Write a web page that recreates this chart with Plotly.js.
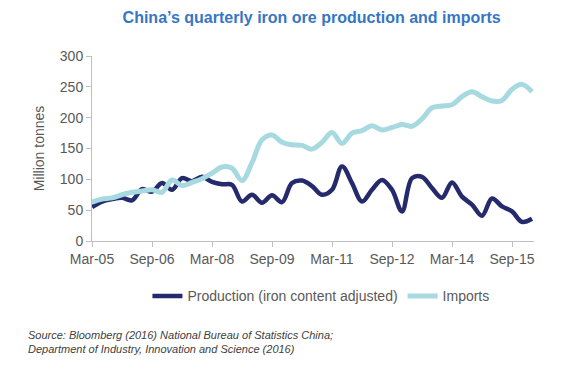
<!DOCTYPE html>
<html>
<head>
<meta charset="utf-8">
<script src="https://cdn.plot.ly/plotly-3.0.1.min.js"></script>
<style>html,body{margin:0;padding:0;background:#fff;}#chart{width:575px;height:370px;}</style>
</head>
<body>
<div id="chart"></div>
<script>
const quarters = ["Mar-05","Jun-05","Sep-05","Dec-05","Mar-06","Jun-06","Sep-06","Dec-06","Mar-07","Jun-07","Sep-07","Dec-07","Mar-08","Jun-08","Sep-08","Dec-08","Mar-09","Jun-09","Sep-09","Dec-09","Mar-10","Jun-10","Sep-10","Dec-10","Mar-11","Jun-11","Sep-11","Dec-11","Mar-12","Jun-12","Sep-12","Dec-12","Mar-13","Jun-13","Sep-13","Dec-13","Mar-14","Jun-14","Sep-14","Dec-14","Mar-15","Jun-15","Sep-15","Dec-15","Mar-16"];
const production = [55,64,68,70,66,84,80,94,83,102,97,104,96,92,91,64,75,62,74,63,94,98,89,75,83,121,94,64,83,99,83,48,102,104,86,70,95,72,59,41,69,56,48,31,36];
const imports = [63,68,70,75,79,81,83,79,99,90,95,101,110,120,118,98,127,164,172,160,156,155,149,160,176,158,175,179,187,180,184,189,186,198,216,219,221,234,242,234,227,228,246,254,242];
const tickLabels = ["Mar-05","Sep-06","Mar-08","Sep-09","Mar-11","Sep-12","Mar-14","Sep-15"];
const yTicks = [0,50,100,150,200,250,300];

const font = "Liberation Sans, Arial, sans-serif";
const traces = [
  {x: quarters, y: production, type: "scatter", mode: "lines", name: "Production (iron content adjusted)",
   line: {color: "#252a6c", width: 4.5, shape: "spline", smoothing: 1}},
  {x: quarters, y: imports, type: "scatter", mode: "lines", name: "Imports",
   line: {color: "#a6d9e0", width: 5, shape: "spline", smoothing: 1}}
];
const layout = {
  width: 575, height: 370,
  margin: {l: 92, r: 41, t: 56, b: 128.5},
  paper_bgcolor: "#fff", plot_bgcolor: "#fff",
  font: {family: font, size: 14, color: "#595959"},
  title: {text: "China\u2019s quarterly iron ore production and imports", font: {family: font, size: 16, color: "#3676c4", weight: "bold"}, x: 0.542, xanchor: "center", y: 0.954, yanchor: "middle"},
  showlegend: true,
  legend: {orientation: "h", x: 0.518, xanchor: "center", y: -0.299, yanchor: "middle", font: {family: font, size: 14, color: "#595959"}, itemwidth: 30, traceorder: "normal"},
  xaxis: {type: "category", range: [0, 44.2], tickvals: tickLabels, ticktext: tickLabels,
    showline: true, linecolor: "#bfbfbf", linewidth: 1, ticks: "outside", ticklen: 5, tickcolor: "#bfbfbf",
    showgrid: false, zeroline: false, tickfont: {family: font, size: 14, color: "#595959"}, fixedrange: true},
  yaxis: {range: [0, 300], tickvals: yTicks, showline: true, linecolor: "#bfbfbf", linewidth: 1,
    ticks: "outside", ticklen: 5, tickcolor: "#bfbfbf", showgrid: false, zeroline: false,
    tickfont: {family: font, size: 14, color: "#595959"},
    title: {text: "Million tonnes", font: {family: font, size: 14, color: "#595959"}, standoff: 11}, fixedrange: true},
  annotations: [{
    xref: "paper", yref: "paper", x: -0.149, y: -0.465, xanchor: "left", yanchor: "top", align: "left", showarrow: false,
    text: "<i>Source: Bloomberg (2016) National Bureau of Statistics China;<br>Department of Industry, Innovation and Science (2016)</i>",
    font: {family: font, size: 11, color: "#404040"}
  }]
};
Plotly.newPlot("chart", traces, layout, {displayModeBar: false, staticPlot: true});
</script>
</body>
</html>
